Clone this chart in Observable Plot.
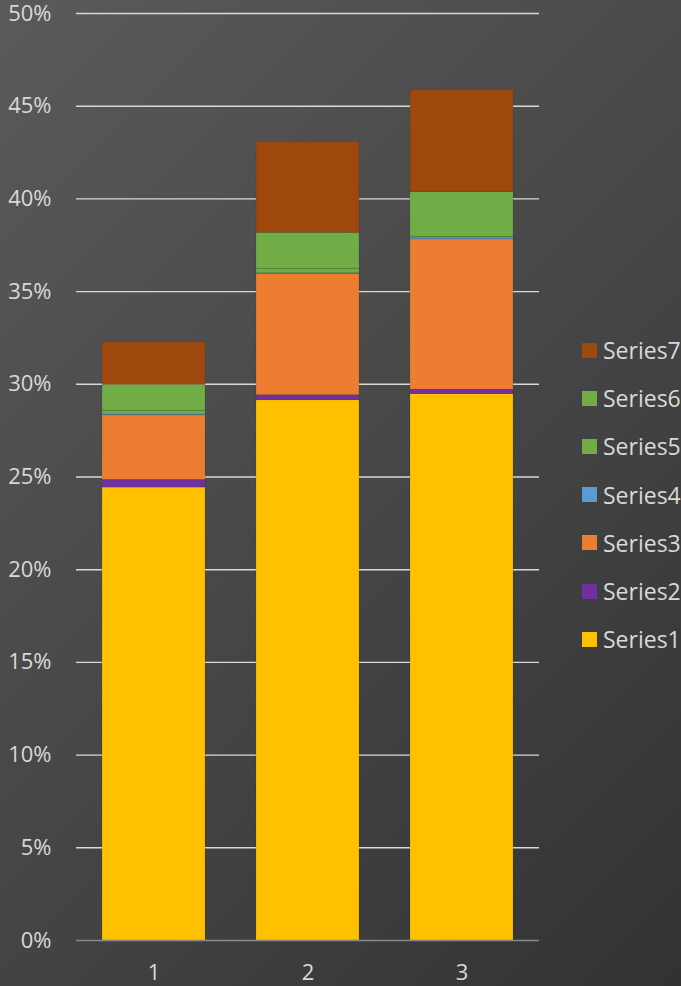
<!DOCTYPE html>
<html>
<head>
<meta charset="utf-8">
<script src="https://cdn.jsdelivr.net/npm/d3@7"></script>
<script src="https://cdn.jsdelivr.net/npm/@observablehq/plot@0.6"></script>
<style>
  html, body { margin: 0; padding: 0; }
  body {
    width: 681px; height: 986px; overflow: hidden; position: relative;
    background: linear-gradient(135deg, #5a5a5a 0%, #474747 50%, #323232 100%);
    font-family: "Open Sans", sans-serif;
  }
  #chart { position: absolute; left: 0; top: 0; }
  #chart svg { overflow: visible; }
  #legend { position: absolute; left: 582px; top: 326px; }
  .item { display: flex; align-items: center; height: 48.2px; color: #d9d9d9; font-size: 23px; }
  .sw { width: 15px; height: 15px; margin-right: 6px; flex: none; }
</style>
</head>
<body>
<div id="chart"></div>
<div id="legend"></div>
<script>
const categories = ["1", "2", "3"];
const seriesNames = ["Series1", "Series2", "Series3", "Series4", "Series5", "Series6", "Series7"];
const seriesColors = ["#FFC000", "#7030A0", "#ED7D31", "#5B9BD5", "#70AD47", "#70AD47", "#9E480E"];
const series1 = [0.2443, 0.2914, 0.2947];
const series2 = [0.0041, 0.0027, 0.0024];
const series3 = [0.0349, 0.0653, 0.0811];
const series4 = [0.0004, 0.0005, 0.0010];
const series5 = [0.0020, 0.0024, 0.0002];
const series6 = [0.0140, 0.0194, 0.0243];
const series7 = [0.0230, 0.0489, 0.0550];
const yTicks = [0, 0.05, 0.10, 0.15, 0.20, 0.25, 0.30, 0.35, 0.40, 0.45, 0.50];

const allSeries = [series1, series2, series3, series4, series5, series6, series7];
const data = [];
allSeries.forEach((vals, si) => {
  vals.forEach((v, ci) => data.push({cat: categories[ci], series: seriesNames[si], value: v}));
});

const chart = Plot.plot({
  width: 681,
  height: 986,
  marginLeft: 76,
  marginRight: 142,
  marginTop: 13,
  marginBottom: 46,
  style: {background: "transparent", color: "#d9d9d9", fontFamily: "Open Sans, sans-serif", fontSize: "22px", overflow: "visible"},
  x: {domain: categories, paddingInner: 0.333, paddingOuter: 0.1665, label: null},
  y: {domain: [0, 0.5], label: null},
  color: {domain: seriesNames, range: seriesColors},
  marks: [
    Plot.gridY(yTicks.filter(d => d > 0), {stroke: "#d9d9d9", strokeOpacity: 1, strokeWidth: 1.4}),
    Plot.barY(data, {
      x: "cat", y: "value", fill: "series", order: seriesNames,
      stroke: "#000", strokeOpacity: 0.12, strokeWidth: 0.8
    }),
    Plot.ruleY([0], {stroke: "#8a8a8a", strokeWidth: 1.5}),
    Plot.axisY({ticks: yTicks, tickFormat: d3.format(".0%"), tickSize: 0, tickPadding: 25, label: null, fill: "#d9d9d9", fontSize: 22}),
    Plot.axisX({tickSize: 0, tickPadding: 24, label: null, fill: "#d9d9d9", fontSize: 22})
  ]
});
document.getElementById("chart").appendChild(chart);

const legend = document.getElementById("legend");
for (let i = seriesNames.length - 1; i >= 0; i--) {
  const item = document.createElement("div");
  item.className = "item";
  const sw = document.createElement("span");
  sw.className = "sw";
  sw.style.background = seriesColors[i];
  const t = document.createElement("span");
  t.textContent = seriesNames[i];
  item.appendChild(sw);
  item.appendChild(t);
  legend.appendChild(item);
}
</script>
</body>
</html>
